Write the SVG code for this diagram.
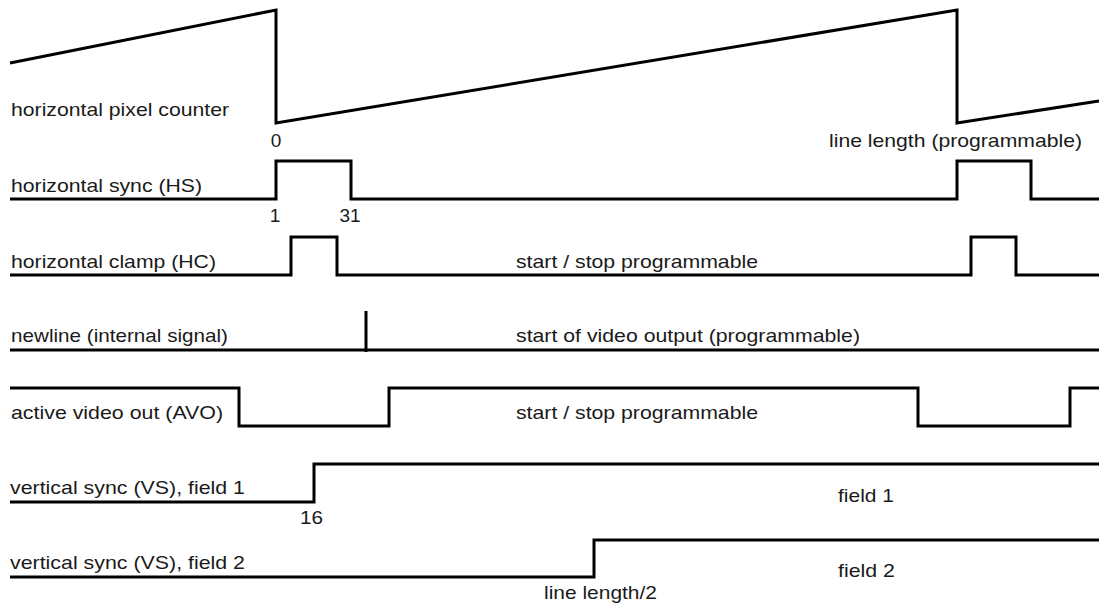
<svg xmlns="http://www.w3.org/2000/svg" width="1099" height="607" viewBox="0 0 1099 607">
<style>
.sig{fill:none;stroke:#000;stroke-width:3;stroke-linejoin:miter;stroke-linecap:butt}
text{font-family:"Liberation Sans",Arial,sans-serif;font-size:19px;fill:#1a1a1a}
</style>
<rect width="1099" height="607" fill="#fff"/>
<g id="connectors">
<polyline id="w-counter" class="sig" points="10,63 276,10 276,123 957,10 957,123 1099,101"/>
<polyline id="w-hs" class="sig" points="10,199 276,199 276,161 351,161 351,199 957,199 957,161 1031,161 1031,199 1099,199"/>
<polyline id="w-hc" class="sig" points="10,275 291,275 291,237 337,237 337,275 971,275 971,237 1016,237 1016,275 1099,275"/>
<polyline id="w-newline" class="sig" points="10,350 1099,350"/>
<line id="w-newline-tick" class="sig" x1="366" y1="311" x2="366" y2="352"/>
<polyline id="w-avo" class="sig" points="10,388 239,388 239,426 389,426 389,388 918,388 918,426 1070,426 1070,388 1099,388"/>
<polyline id="w-vs1" class="sig" points="10,502 314,502 314,464 1099,464"/>
<polyline id="w-vs2" class="sig" points="10,577 594,577 594,540 1099,540"/>
</g>
<g id="counter">
<text x="11" y="116" textLength="218" lengthAdjust="spacingAndGlyphs">horizontal pixel counter</text>
<text x="276" y="147" text-anchor="middle">0</text>
<text x="829" y="147" textLength="253" lengthAdjust="spacingAndGlyphs">line length (programmable)</text>
</g>
<g id="hs">
<text x="11" y="192" textLength="191" lengthAdjust="spacingAndGlyphs">horizontal sync (HS)</text>
<text x="275" y="222" text-anchor="middle">1</text>
<text x="350" y="222" text-anchor="middle">31</text>
</g>
<g id="hc">
<text x="11" y="268" textLength="205" lengthAdjust="spacingAndGlyphs">horizontal clamp (HC)</text>
<text x="516" y="268" textLength="242" lengthAdjust="spacingAndGlyphs">start / stop programmable</text>
</g>
<g id="newline">
<text x="11" y="342" textLength="217" lengthAdjust="spacingAndGlyphs">newline (internal signal)</text>
<text x="516" y="342" textLength="344" lengthAdjust="spacingAndGlyphs">start of video output (programmable)</text>
</g>
<g id="avo">
<text x="11" y="419" textLength="212" lengthAdjust="spacingAndGlyphs">active video out (AVO)</text>
<text x="516" y="419" textLength="242" lengthAdjust="spacingAndGlyphs">start / stop programmable</text>
</g>
<g id="vs1">
<text x="10" y="494" textLength="235" lengthAdjust="spacingAndGlyphs">vertical sync (VS), field 1</text>
<text x="300" y="524" textLength="23" lengthAdjust="spacingAndGlyphs">16</text>
<text x="838" y="502" textLength="56" lengthAdjust="spacingAndGlyphs">field 1</text>
</g>
<g id="vs2">
<text x="10" y="569" textLength="235" lengthAdjust="spacingAndGlyphs">vertical sync (VS), field 2</text>
<text x="544" y="599" textLength="113" lengthAdjust="spacingAndGlyphs">line length/2</text>
<text x="838" y="577" textLength="57" lengthAdjust="spacingAndGlyphs">field 2</text>
</g>
</svg>
